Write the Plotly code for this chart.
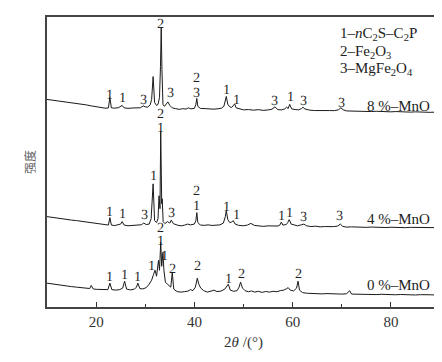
import plotly.graph_objects as go

# ---------------- data ----------------
two_theta_8 = [10, 11, 12, 13, 14, 15, 16, 17, 18, 19, 20, 21, 21.8, 22.5, 22.8, 23.1, 23.8, 24.6, 25.0, 25.3, 25.7,
               26.5, 27.5, 28.3, 29.0, 29.6, 30.0, 30.5, 31.0, 31.3, 31.6, 31.9, 32.3, 32.6, 32.9, 33.1, 33.25, 33.4,
               33.6, 33.9, 34.3, 34.6, 35.0, 35.5, 36.2, 37.0, 37.6, 38.3, 38.8, 39.3, 40.0, 40.3, 40.5, 40.7, 41.2,
               41.8, 42.5, 43.3, 44.0, 44.8, 45.5, 46.0, 46.3, 46.5, 46.8, 47.2, 47.6, 48.0, 48.2, 48.5, 49.2, 50, 51,
               52, 53, 54, 55, 55.8, 56.4, 57.0, 57.8, 58.4, 58.8, 59.1, 59.4, 59.8, 60.5, 61.2, 61.8, 62.1, 62.5,
               63.5, 64.5, 65.5, 66.5, 67.5, 68.5, 69.3, 69.8, 70.3, 71, 72, 73, 74, 75, 76, 77, 78, 79, 80, 81, 82,
               83, 84, 85, 86, 87, 88, 89, 90]
intensity_8 = [13, 12.4, 11.5, 11.2, 10.2, 9.8, 8.7, 8.2, 7.5, 6.5, 5.6, 4.5, 4.2, 4.4, 15, 4.5, 4.2, 4.8, 6, 7, 4.5,
               4.0, 4.4, 4.8, 4.6, 6.5, 5.5, 5.2, 7.5, 13, 36, 10, 7, 8, 15, 46, 85, 43,
               8, 6, 9, 10.5, 7, 4.5, 3.7, 3, 3.7, 3.3, 4.5, 3.5, 4, 8, 14, 6, 4,
               3.8, 3.4, 3.8, 3.2, 3.6, 4.2, 6, 11, 16, 8, 5.5, 5, 7, 8.5, 4.5, 3.4, 2.5, 2.8,
               2.2, 2.7, 2, 2.4, 3.2, 5.5, 2.7, 2.5, 3.5, 5.2, 3.8, 8, 3.5, 2.8, 2.5, 3.8, 5.2, 3.4,
               2.2, 1.8, 2, 1.5, 1.8, 1.7, 2.5, 4.5, 2.6, 1.4, 1.2, 1.6, 1, 1.3, 0.8, 1.1, 0.7, 1, 0.5, 0.8, 0.4,
               0.7, 0.2, 0.5, 0.1, 0.4, 0, 0.2, 0]

two_theta_4 = [10, 11, 12, 13, 14, 15, 16, 17, 18, 19, 20, 21, 21.8, 22.5, 22.8, 23.1, 23.8, 24.6, 25.0, 25.3, 25.7,
               26.5, 27.5, 28.5, 29.2, 29.7, 30.2, 30.8, 31.2, 31.6, 31.9, 32.3, 32.6, 32.8, 33.0, 33.15, 33.35,
               33.45, 33.65, 34.0, 34.5, 35.0, 35.3, 35.7, 36.5, 37.3, 38.0, 38.6, 39.2, 40.0, 40.3, 40.5, 40.7,
               41.2, 42.0, 42.8, 43.6, 44.4, 45.2, 45.9, 46.3, 46.5, 46.8, 47.2, 47.6, 47.9, 48.3, 49.0, 50.0, 50.8,
               51.5, 52.2, 53.0, 54.0, 55.0, 56.0, 57.0, 57.4, 57.7, 58.0, 58.7, 59.0, 59.3, 59.7, 60.3, 61.0, 61.8,
               62.3, 62.8, 63.7, 64.7, 65.6, 66.5, 67.4, 68.3, 69.2, 69.7, 70.2, 71, 72, 73, 74, 75, 76, 77, 78, 79,
               80, 81, 82, 83, 84, 85, 86, 87, 88, 89, 90]
intensity_4 = [11, 10.2, 9.7, 8.8, 8.4, 7.5, 7, 6.2, 5.6, 4.7, 4, 3.2, 2.7, 2.5, 10, 2.5, 2, 2.5, 3.5, 6, 2.5,
               1.8, 2.2, 2.5, 2.8, 4.5, 3, 3.5, 9, 44, 7, 5, 9, 32, 19, 97, 24,
               29, 6, 4, 6, 4.5, 7.5, 4, 2.5, 1.7, 2.4, 3.5, 2.7, 3.5, 7, 15, 5,
               2.6, 2.2, 2.7, 2.1, 2.5, 2.7, 4.5, 11, 17, 8, 5, 5.5, 7, 3.5, 2.2, 1.8, 2.5,
               4.2, 2.2, 1.6, 1.2, 1.7, 1.4, 1.5, 2.5, 5.5, 2.5, 3, 5, 8, 3.5, 2.5, 1.7, 2.8,
               3.5, 1.8, 1, 1.4, 0.7, 1, 0.6, 0.9, 1.5, 3.5, 1.2, 0.4, 0.7, 0.3, 0.6, 0.2, 0.5, 0.1, 0.4, 0,
               0.3, 0, 0.3, -0.1, 0.2, 0, 0.2, -0.2, 0.1, -0.1, 0]

two_theta_0 = [10, 11, 12, 13, 14, 15, 16, 17, 18, 18.7, 19.0, 19.4, 20, 21, 21.8, 22.4, 22.8, 23.2, 24.0, 24.8,
               25.4, 25.8, 26.2, 27.0, 27.8, 28.2, 28.5, 28.9, 29.5, 30.2, 30.8, 31.3, 31.7, 32.0, 32.3, 32.7, 32.9,
               33.15, 33.35, 33.6, 33.8, 34.1, 34.5, 34.9, 35.2, 35.5, 35.8, 36.5, 37.3, 38.0, 38.7, 39.2, 39.7,
               40.2, 40.6, 40.9, 41.3, 41.9, 42.6, 43.4, 44.0, 44.6, 45.4, 46.2, 46.9, 47.3, 48.0, 48.7, 49.1, 49.4,
               49.8, 50.3, 51.0, 51.6, 52.3, 53.0, 53.8, 54.5, 55.3, 56.0, 56.8, 57.5, 58.2, 58.8, 59.1, 59.5, 60.2,
               60.8, 61.1, 61.4, 62.0, 63, 64, 65, 66, 67, 68, 69, 70, 71, 71.6, 72, 73, 74, 75, 76, 77, 78, 79, 80,
               81, 82, 83, 84, 85, 86, 87, 88, 89, 90]
intensity_0 = [12, 11.2, 10.6, 9.8, 9.2, 8.5, 8, 7.4, 6.8, 6.6, 9.7, 6.2, 5.8, 5.4, 5, 5.5, 12, 5.5, 5, 5.5,
               7, 14, 6, 5.2, 6, 8, 12, 6.5, 6.2, 7.5, 11, 15, 21, 25, 19, 35, 25,
               53, 29, 43, 25, 13, 11, 9.5, 8, 23, 6, 3.5, 3, 3.5, 4, 5.5, 4.5,
               8, 17, 11, 7, 4.5, 3, 4, 5, 3.5, 4, 6, 11, 5, 3.8, 4.5, 8, 13,
               7, 4.5, 3.3, 4.2, 3, 3.8, 2.7, 3.6, 3, 3.8, 3.4, 4.5, 5, 6.5, 7.5, 5, 4.2,
               7, 14, 5, 2.5, 1.8, 1.4, 1.7, 1.2, 1.5, 1.1, 1.4, 1, 1.3, 4.5, 1, 0.8, 1.1, 0.6, 0.9, 0.5, 0.8, 0.4, 0.7,
               0.3, 0.6, 0.2, 0.5, 0.1, 0.4, 0, 0.3, 0.1, 0]

sample_names = ["8 %\u2013MnO", "4 %\u2013MnO", "0 %\u2013MnO"]
offsets = [196, 80, 12]

# peak labels: (2theta, stacked height, phase number)
labels_8 = [(22.8, 214, "1"), (25.3, 211, "1"), (29.6, 209, "3"), (33.2, 285, "2"), (35.1, 216, "3"),
            (40.5, 231, "2"), (40.5, 216, "3"), (46.5, 219, "1"), (48.5, 209, "1"), (56.4, 208, "3"),
            (59.5, 212, "1"), (62.3, 208, "3"), (69.9, 206, "3")]
labels_4 = [(22.8, 96, "1"), (25.3, 94, "1"), (29.8, 93, "3"), (31.6, 132, "1"), (35.3, 95, "3"),
            (40.5, 117, "2"), (40.5, 102, "1"), (46.5, 101, "1"), (48.5, 93, "1"), (57.7, 92, "1"),
            (59.4, 95, "1"), (62.3, 91, "3"), (69.6, 92, "3"), (33.1, 195, "2"), (33.1, 181, "1")]
labels_0 = [(22.8, 31, "1"), (25.8, 33, "1"), (28.5, 31, "1"), (31.2, 42, "1"), (33.1, 80, "2"),
            (33.1, 67, "1"), (34.0, 52, "1"), (35.5, 39, "2"), (40.6, 42, "2"), (46.9, 29, "1"),
            (49.5, 34, "2"), (61.1, 34, "2")]

legend_lines = ["1\u2013<i>n</i>C<sub>2</sub>S\u2013C<sub>2</sub>P",
                "2\u2013Fe<sub>2</sub>O<sub>3</sub>",
                "3\u2013MgFe<sub>2</sub>O<sub>4</sub>"]
x_ticks = [20, 40, 60, 80]
x_minor = [30, 50, 70]

# ---------------- figure ----------------
SERIF = "Liberation Serif"
fig = go.Figure()
for tt, inten, off in [(two_theta_8, intensity_8, offsets[0]),
                       (two_theta_4, intensity_4, offsets[1]),
                       (two_theta_0, intensity_0, offsets[2])]:
    fig.add_trace(go.Scatter(x=tt, y=[v + off for v in inten], mode="lines",
                             line=dict(color="#1a1a1a", width=1), showlegend=False, hoverinfo="skip"))

ann = []
for labs in (labels_8, labels_4, labels_0):
    for x, y, t in labs:
        ann.append(dict(x=x, y=y, text=t, showarrow=False, xanchor="center", yanchor="middle",
                        textangle=1, opacity=0.99,
                        font=dict(family=SERIF, size=14, color="#1e1e1e")))

for name, y in zip(sample_names, [202, 89, 22]):
    ann.append(dict(x=81.5, y=y, text=name, showarrow=False, xanchor="center", yanchor="middle",
                    font=dict(family=SERIF, size=15, color="#222222")))

for line, y in zip(legend_lines, [275, 257, 240]):
    ann.append(dict(x=69.3, y=y, text=line, showarrow=False, xanchor="left", yanchor="middle",
                    font=dict(family=SERIF, size=15, color="#222222")))

ann.append(dict(xref="paper", yref="paper", x=-0.046, y=0.5, text="强度", textangle=-90, showarrow=False,
                xanchor="center", yanchor="middle",
                font=dict(family="Noto Sans CJK SC", size=12, color="#666666")))

fig.update_layout(
    width=442, height=362,
    margin=dict(l=39, r=10, t=7, b=63),
    paper_bgcolor="white", plot_bgcolor="white",
    annotations=ann,
    xaxis=dict(range=[10, 90], tickvals=x_ticks, ticks="inside", ticklen=5, tickwidth=1.2,
               tickcolor="#333333", showline=True, linecolor="#444444", linewidth=1.5, mirror=True,
               showgrid=False, zeroline=False,
               tickfont=dict(family=SERIF, size=15, color="#333333"),
               minor=dict(tickvals=x_minor, ticks="inside", ticklen=3, tickwidth=1.2, tickcolor="#333333"),
               title=dict(text="2<i>θ</i> /(°)", font=dict(family=SERIF, size=15, color="#333333"), standoff=8)),
    yaxis=dict(range=[0, 292], showticklabels=False, ticks="", showline=True, linecolor="#444444",
               linewidth=1.5, mirror=True, showgrid=False, zeroline=False),
)

fig.write_html("out.html")
